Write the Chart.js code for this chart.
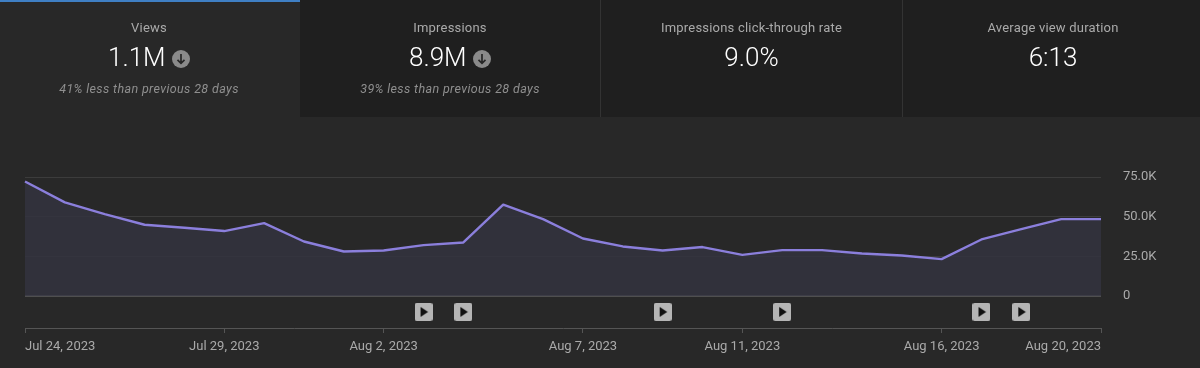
<!DOCTYPE html>
<html><head><meta charset="utf-8">
<style>
html,body{margin:0;padding:0;background:#282828;width:1200px;height:368px;overflow:hidden;font-family:Roboto,sans-serif}
#c{position:absolute;left:0;top:0}
.card{position:absolute;top:0;height:117px;background:#1f1f1f;text-align:center;color:#fff}
.card.on{background:#282828}
.bar{position:absolute;left:0;top:0;width:100%;height:2px;background:#3f7fc4}
.t{position:absolute;left:0;right:0;top:20px;font-size:13px;line-height:16px;color:#aaa;letter-spacing:.2px}
.v{position:absolute;left:0;right:0;top:41px;font-size:26px;line-height:32px;font-weight:300;color:#fff}
.s{position:absolute;left:0;right:0;top:81px;font-size:12.5px;line-height:16px;font-style:italic;color:#8f8f8f;letter-spacing:.37px}
.v svg{vertical-align:-2px;margin-left:0}
.sep{position:absolute;top:0;width:1px;height:117px;background:#333}
</style></head><body>
<canvas id="c" width="1200" height="368"></canvas>
<div class="card on" style="left:0;width:298px"><div class="bar" style="width:300px"></div><div class="t">Views</div><div class="v">1.1M <svg width="18" height="18" viewBox="0 0 18 18"><circle cx="9" cy="9" r="9" fill="#8a8a8a"/><path d="M9 4v9M5.5 9.8 9 13.3l3.5-3.5" stroke="#262626" stroke-width="1.7" fill="none"/></svg></div><div class="s">41% less than previous 28 days</div></div>
<div class="card" style="left:300px;width:300px"><div class="t">Impressions</div><div class="v">8.9M <svg width="18" height="18" viewBox="0 0 18 18"><circle cx="9" cy="9" r="9" fill="#8a8a8a"/><path d="M9 4v9M5.5 9.8 9 13.3l3.5-3.5" stroke="#262626" stroke-width="1.7" fill="none"/></svg></div><div class="s">39% less than previous 28 days</div></div>
<div class="card" style="left:601px;width:301px"><div class="t">Impressions click-through rate</div><div class="v">9.0%</div></div>
<div class="card" style="left:903px;width:300px"><div class="t">Average view duration</div><div class="v">6:13</div></div>
<div class="sep" style="left:600px"></div><div class="sep" style="left:902px"></div>
<script src="https://cdn.jsdelivr.net/npm/chart.js@4"></script>
<script>
const categories=["Jul 24, 2023","Jul 25, 2023","Jul 26, 2023","Jul 27, 2023","Jul 28, 2023","Jul 29, 2023","Jul 30, 2023","Jul 31, 2023","Aug 1, 2023","Aug 2, 2023","Aug 3, 2023","Aug 4, 2023","Aug 5, 2023","Aug 6, 2023","Aug 7, 2023","Aug 8, 2023","Aug 9, 2023","Aug 10, 2023","Aug 11, 2023","Aug 12, 2023","Aug 13, 2023","Aug 14, 2023","Aug 15, 2023","Aug 16, 2023","Aug 17, 2023","Aug 18, 2023","Aug 19, 2023","Aug 20, 2023"];
const views=[72200,59000,51600,44900,43000,40900,45900,34300,28000,28600,32000,33700,57500,48400,36200,31200,28600,30800,25900,28900,28900,26700,25500,23200,35600,42100,48400,48400];
const tickDates=["Jul 24, 2023","Jul 29, 2023","Aug 2, 2023","Aug 7, 2023","Aug 11, 2023","Aug 16, 2023","Aug 20, 2023"];
const yTicks=[0,25000,50000,75000];
const yTickLabels=["0","25.0K","50.0K","75.0K"];
const videoDates=["Aug 3, 2023","Aug 4, 2023","Aug 9, 2023","Aug 12, 2023","Aug 17, 2023","Aug 18, 2023"];
const markerLevel=-10100, axisFloor=-20250;

const icon=document.createElement('canvas');icon.width=18;icon.height=18;
const g=icon.getContext('2d');
g.fillStyle='#b5b5b5';g.beginPath();g.roundRect(0,0,18,18,2);g.fill();
g.fillStyle='#111';g.beginPath();g.moveTo(6,4);g.lineTo(13.5,9);g.lineTo(6,14);g.closePath();g.fill();

new Chart(document.getElementById('c'),{
  type:'line',
  data:{labels:categories,datasets:[
    {data:views,borderColor:'#8b7fdc',borderWidth:2.4,backgroundColor:'rgba(50,50,62,0.85)',fill:'origin',pointRadius:0,tension:0,borderJoinStyle:'round',order:2},
    {data:categories.map(c=>videoDates.includes(c)?markerLevel:null),showLine:false,fill:false,pointStyle:icon,pointRadius:9,order:1}
  ]},
  options:{
    responsive:false,animation:false,
    layout:{padding:{left:25,top:177,right:0,bottom:0}},
    plugins:{legend:{display:false},tooltip:{enabled:false}},
    scales:{
      x:{type:'category',offset:false,
        afterBuildTicks:s=>{s.ticks=s.ticks.filter(t=>tickDates.includes(categories[t.value]));},
        afterFit:s=>{s.height=40;},
        border:{color:'#555',width:1},
        grid:{drawOnChartArea:false,drawTicks:true,tickLength:5,color:'#555'},
        ticks:{autoSkip:false,maxRotation:0,minRotation:0,align:'inner',padding:6,color:'#aaa',font:{family:'Roboto',size:13},
          callback(v){return categories[v];}}
      },
      y:{position:'right',min:axisFloor,max:75000,
        afterBuildTicks:s=>{s.ticks=yTicks.map(value=>({value}));},
        afterFit:s=>{s.width=99;},
        border:{display:false},
        grid:{drawTicks:false,color:c=>c.tick&&c.tick.value===0?'#777':'#3c3c3c',lineWidth:c=>c.tick&&c.tick.value===0?1.5:1},
        ticks:{padding:22,color:'#aaa',font:{family:'Roboto',size:13},
          callback(v){return yTickLabels[yTicks.indexOf(v)];}}
      }
    }
  }
});
</script>
</body></html>
